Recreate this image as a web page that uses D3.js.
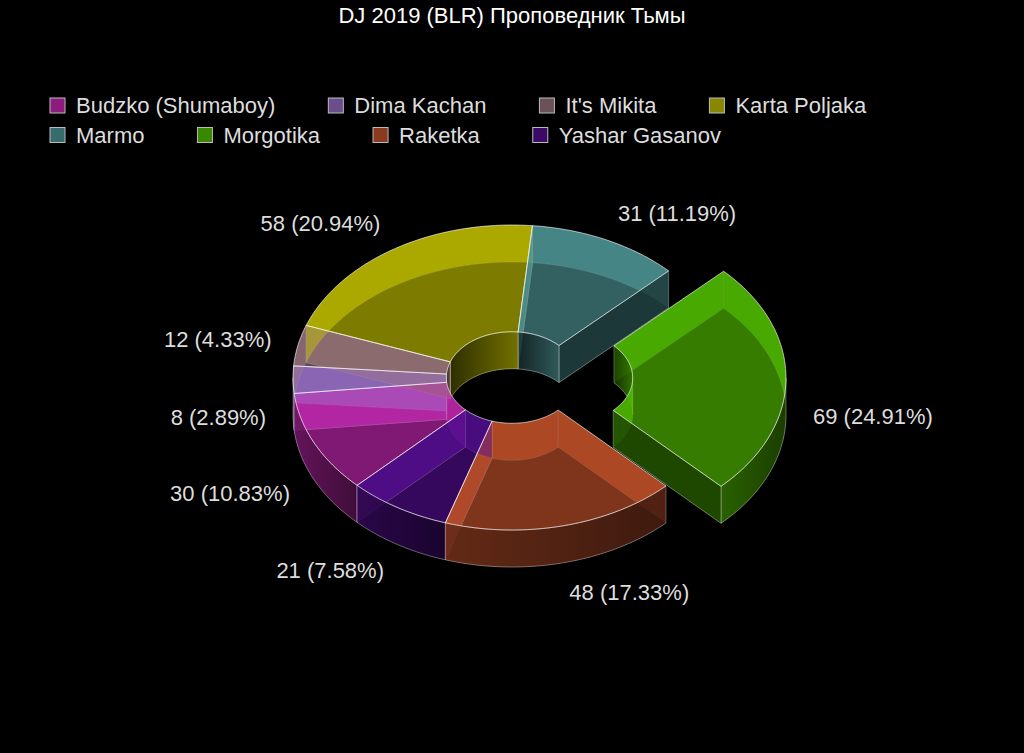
<!DOCTYPE html>
<html>
<head>
<meta charset="utf-8">
<script src="https://cdn.jsdelivr.net/npm/d3@7"></script>
<style>
  html, body { margin: 0; padding: 0; background: #000; }
  svg { display: block; }
</style>
</head>
<body>
<script>
// chart data
const names = ["Budzko (Shumaboy)", "Dima Kachan", "It's Mikita", "Karta Poljaka",
               "Marmo", "Morgotika", "Raketka", "Yashar Gasanov"];
const counts = [30, 8, 12, 58, 31, 69, 48, 21];
const colors = ["#8B1C7D", "#6B4E8C", "#6B5158", "#898700",
                "#386B6B", "#3A8700", "#8A3A1E", "#3A0A66"];
const pulled = ["Morgotika"];
const title = "DJ 2019 (BLR) Проповедник Тьмы";

// layout
const width = 1024, height = 753;
const cx = 512, cy = 377.5, rx = 219, ry = 152.5, depth = 37;
const innerR = 0.3, pullOut = 55 / 219, startDeg = 225;
const font = "'Liberation Sans', Arial, sans-serif";

const svg = d3.select("body").append("svg")
    .attr("width", width)
    .attr("height", height);
svg.append("rect").attr("width", width).attr("height", height).attr("fill", "#000");
const defs = svg.append("defs");

// ellipse projection through linear scales (unit circle -> pixels)
const xs = d3.scaleLinear().domain([-1, 1]).range([cx - rx, cx + rx]);
const ys = d3.scaleLinear().domain([-1, 1]).range([cy + ry, cy - ry]);
const lxs = d3.scaleLinear().domain([-1, 1]).range([cx - rx - 27, cx + rx + 27]);
const lys = d3.scaleLinear().domain([-1, 1]).range([cy + ry + 30, cy - ry - 30]);

const total = d3.sum(counts);
const data = names.map((n, i) => ({name: n, value: counts[i], color: colors[i]}));
const a0 = startDeg * Math.PI / 180;
const arcs = d3.pie().sort(null).value(d => d.value)
    .startAngle(a0).endAngle(a0 + 2 * Math.PI)(data);

arcs.forEach(a => {
  a.mid = (a.startAngle + a.endAngle) / 2;
  const p = pulled.includes(a.data.name) ? pullOut : 0;
  a.ox = p * Math.sin(a.mid);
  a.oy = p * Math.cos(a.mid);
});

function shade(hex, k) {
  const c = d3.rgb(hex);
  const f = v => Math.max(0, Math.min(255, Math.round(v * k)));
  return d3.rgb(f(c.r), f(c.g), f(c.b)).formatHex();
}

function pt(a, t, r, z) {
  return [xs(a.ox + r * Math.sin(t)), ys(a.oy + r * Math.cos(t)) + z];
}
function arcPts(a, t0, t1, r, z) {
  const n = Math.max(2, Math.ceil(Math.abs(t1 - t0) / (Math.PI / 180)) + 1);
  return d3.range(n).map(i => pt(a, t0 + (t1 - t0) * i / (n - 1), r, z));
}
const poly = pts => d3.line()(pts) + "Z";

function ring(a, z) {
  return poly(arcPts(a, a.startAngle, a.endAngle, 1, z)
    .concat(arcPts(a, a.endAngle, a.startAngle, innerR, z)));
}
function curved(a, t0, t1, r) {
  return poly(arcPts(a, t0, t1, r, 0).concat(arcPts(a, t1, t0, r, depth)));
}
function side(a, t) {
  return poly([pt(a, t, innerR, 0), pt(a, t, 1, 0), pt(a, t, 1, depth), pt(a, t, innerR, depth)]);
}
// split an angle range where a curved wall turns from back to front
function splits(t0, t1) {
  const out = [t0];
  let b = Math.PI / 2 + Math.ceil((t0 - Math.PI / 2) / Math.PI) * Math.PI;
  for (; b < t1 - 1e-9; b += Math.PI) if (b > t0 + 1e-9) out.push(b);
  out.push(t1);
  return d3.pairs(out);
}

// collect walls
const walls = [];
arcs.forEach((a, i) => {
  splits(a.startAngle, a.endAngle).forEach(([t0, t1]) => {
    const m = (t0 + t1) / 2;
    walls.push({a, i, d: curved(a, t0, t1, 1), front: Math.cos(m) < 0, kind: "outer",
                key: pt(a, m, 1, depth)[1]});
    walls.push({a, i, d: curved(a, t0, t1, innerR), front: Math.cos(m) > 0, kind: "inner",
                key: pt(a, m, innerR, depth)[1]});
  });
  walls.push({a, i, d: side(a, a.startAngle), front: Math.sin(a.startAngle) < 0, kind: "side",
              key: pt(a, a.startAngle, 0.65, depth)[1]});
  walls.push({a, i, d: side(a, a.endAngle), front: Math.sin(a.endAngle) > 0, kind: "side",
              key: pt(a, a.endAngle, 0.65, depth)[1]});
});

// gradients for visible walls
walls.filter(w => w.front && w.kind !== "side").forEach((w, j) => {
  const id = "wg" + j;
  const g = defs.append("linearGradient").attr("id", id)
      .attr("x1", 0).attr("x2", 1).attr("y1", 0).attr("y2", 0);
  const k = w.kind === "outer" ? [0.72, 0.42] : [0.3, 0.85];
  g.append("stop").attr("offset", 0).attr("stop-color", shade(w.a.data.color, k[0]));
  g.append("stop").attr("offset", 1).attr("stop-color", shade(w.a.data.color, k[1]));
  w.fill = `url(#${id})`;
});

// clip: the area covered by the top faces
defs.append("clipPath").attr("id", "topClip")
  .selectAll("path")
  .data(arcs)
  .join("path")
    .attr("d", a => ring(a, 0));

const pieG = svg.append("g");

// bottom faces
pieG.append("g").selectAll("path")
  .data(arcs.slice().sort((p, q) => Math.cos(q.mid) - Math.cos(p.mid)))
  .join("path")
    .attr("d", a => ring(a, depth))
    .attr("fill", a => shade(a.data.color, 0.73))
    .attr("stroke", "rgba(255,255,255,0.12)")
    .attr("stroke-width", 1);

// walls facing the viewer
pieG.append("g").selectAll("path")
  .data(walls.filter(w => w.front).sort((p, q) => p.key - q.key))
  .join("path")
    .attr("d", w => w.d)
    .attr("fill", w => w.fill || shade(w.a.data.color, 0.5))
    .attr("fill-opacity", 0.9)
    .attr("stroke", "rgba(255,255,255,0.3)")
    .attr("stroke-width", 1)
    .attr("stroke-linejoin", "round");

const backWalls = walls.filter(w => !w.front);

// walls facing away: faint where they stick out of the top
pieG.append("g").selectAll("path")
  .data(backWalls)
  .join("path")
    .attr("d", w => w.d)
    .attr("fill", w => shade(w.a.data.color, 1.3))
    .attr("fill-opacity", 0.22);

// walls facing away, seen through the top
pieG.append("g")
    .attr("clip-path", "url(#topClip)")
  .selectAll("path")
  .data(backWalls)
  .join("path")
    .attr("d", w => w.d)
    .attr("fill", w => shade(w.a.data.color, 1.6))
    .attr("fill-opacity", 0.8)
    .attr("stroke", "rgba(255,255,255,0.15)")
    .attr("stroke-width", 1);

// top faces
pieG.append("g").selectAll("path")
  .data(arcs)
  .join("path")
    .attr("d", a => ring(a, 0))
    .attr("fill", a => shade(a.data.color, 1.15))
    .attr("fill-opacity", 0.45)
    .attr("stroke", "rgba(255,255,255,0.6)")
    .attr("stroke-width", 1)
    .attr("stroke-linejoin", "round");

// slice labels
svg.append("g").selectAll("text")
  .data(arcs)
  .join("text")
    .attr("x", a => lxs(Math.sin(a.mid)) + xs(a.ox) - xs(0))
    .attr("y", a => lys(Math.cos(a.mid)) + ys(a.oy) - ys(0) + (Math.cos(a.mid) < 0 ? depth : 0) + 8)
    .attr("text-anchor", a => Math.sin(a.mid) >= 0 ? "start" : "end")
    .attr("font-family", font)
    .attr("font-size", "22px")
    .attr("fill", "#dddddd")
    .text(a => `${a.value} (${(a.value / total * 100).toFixed(2)}%)`);

// title
svg.append("text")
    .attr("x", width / 2)
    .attr("y", 23)
    .attr("text-anchor", "middle")
    .attr("font-family", font)
    .attr("font-size", "22px")
    .attr("fill", "#ffffff")
    .text(title);

// legend, flowing left to right
const legend = svg.append("g");
let lx = 50, row = 0;
const rowY = [98, 127.5], maxX = 974, gap = 53;
data.forEach(d => {
  const item = legend.append("g");
  item.append("rect")
      .attr("width", 15).attr("height", 15)
      .attr("fill", d.color)
      .attr("stroke", "#bbbbbb")
      .attr("stroke-width", 1);
  const t = item.append("text")
      .attr("x", 26).attr("y", 15)
      .attr("font-family", font)
      .attr("font-size", "22px")
      .attr("fill", "#dddddd")
      .text(d.name);
  const w = 26 + t.node().getComputedTextLength();
  if (lx + w > maxX) { lx = 50; row++; }
  item.attr("transform", `translate(${lx}, ${rowY[row]})`);
  lx += w + gap;
});
</script>
</body>
</html>
